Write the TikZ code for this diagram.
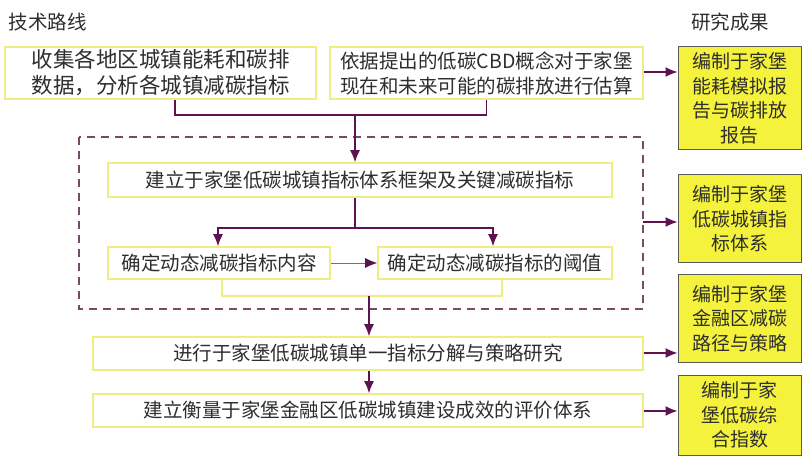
\documentclass[tikz,border=0pt]{standalone}
\usepackage{fontspec}
\setmainfont{Noto Sans CJK SC}
\usetikzlibrary{arrows.meta}

\definecolor{plum}{HTML}{5E1350}
\definecolor{boxline}{HTML}{EEEE80}
\definecolor{resfill}{HTML}{F4F23C}
\definecolor{dashcol}{HTML}{7A4868}
\definecolor{ink}{HTML}{2E2E2E}

\begin{document}
\begin{tikzpicture}[x=1pt,y=-1pt,>={Latex[length=12pt,width=10pt]},
  every node/.style={text=ink,font=\fontsize{19.5}{25}\selectfont},
  routebox/.style={draw=boxline,line width=1.6pt,fill=white,align=center,inner sep=0pt},
  resultbox/.style={draw=black!65,line width=1pt,fill=resfill,align=center,inner sep=0pt,
    minimum width=123pt,font=\fontsize{19}{24.5}\selectfont},
  link/.style={draw=plum,line width=1.3pt},
  arr/.style={link,->}]
  \useasboundingbox[fill=white] (0,0) rectangle (809,457);

  % headings
  \node (route) at (48,22) {技术路线};
  \node (result) at (730,22) {研究成果};

  % left column
  \node[routebox,minimum width=311pt,minimum height=52pt,font=\fontsize{21.5}{26}\selectfont] (collect) at (160.5,73)
    {收集各地区城镇能耗和碳排\\数据，分析各城镇减碳指标};
  \node[routebox,minimum width=313pt,minimum height=52pt] (estimate) at (486.5,73)
    {依据提出的低碳CBD概念对于家堡\\现在和未来可能的碳排放进行估算};
  \draw[dashcol,line width=1.3pt,dash pattern=on 8pt off 6pt] (79,137) rectangle (643,309);
  \node[routebox,minimum width=504pt,minimum height=34pt] (frame) at (360,180)
    {建立于家堡低碳城镇指标体系框架及关键减碳指标};
  \node[routebox,minimum width=222pt,minimum height=32pt] (content) at (219,263)
    {确定动态减碳指标内容};
  \node[routebox,minimum width=234pt,minimum height=32pt] (threshold) at (495,263)
    {确定动态减碳指标的阈值};
  \node[routebox,minimum width=550pt,minimum height=33pt] (split) at (368,353.5)
    {进行于家堡低碳城镇单一指标分解与策略研究};
  \node[routebox,minimum width=550pt,minimum height=33pt] (assess) at (368,410.5)
    {建立衡量于家堡金融区低碳城镇建设成效的评价体系};

  % right column
  \node[resultbox,minimum height=103pt] (r1) at (739.5,98.5) {编制于家堡\\能耗模拟报\\告与碳排放\\报告};
  \node[resultbox,minimum height=88pt] (r2) at (739.5,219) {编制于家堡\\低碳城镇指\\标体系};
  \node[resultbox,minimum height=87pt] (r3) at (739.5,318.5) {编制于家堡\\金融区减碳\\路径与策略};
  \node[resultbox,minimum height=80pt] (r4) at (739.5,415) {编制于家\\堡低碳综\\合指数};

  % junctions
  \coordinate (j1) at (355,115);
  \coordinate (j2) at (355,228);
  \coordinate (j3) at (369,296);
  \coordinate (fr) at (643,222);

  \draw[link] ([xshift=14.5pt]collect.south) |- (j1) -| (estimate.south);
  \draw[arr] (j1) -- (frame.north -| j1);
  \draw[link] (frame.south -| j2) -- (j2);
  \draw[arr] (j2) -| (content.north -| 218,0);
  \draw[arr] (j2) -| (threshold.north -| 493,0);
  \draw[-{Latex[length=12pt,width=10pt,color=plum]},draw=black!55,line width=0.8pt] (content) -- (threshold);
  \draw[boxline,line width=1.6pt] ([xshift=3pt]content.south) |- (j3) -| ([xshift=7pt]threshold.south);
  \draw[arr] (j3) -- (split.north -| j3);
  \draw[arr] (split.south -| j3) -- (assess.north -| j3);

  \draw[arr] (estimate.east |- 0,72) -- (r1.west |- 0,72);
  \draw[arr] (fr) -- (r2.west |- fr);
  \draw[arr] (split.east |- 0,353) -- (r3.west |- 0,353);
  \draw[arr] (assess.east |- 0,411) -- (r4.west |- 0,411);
\end{tikzpicture}
\end{document}
